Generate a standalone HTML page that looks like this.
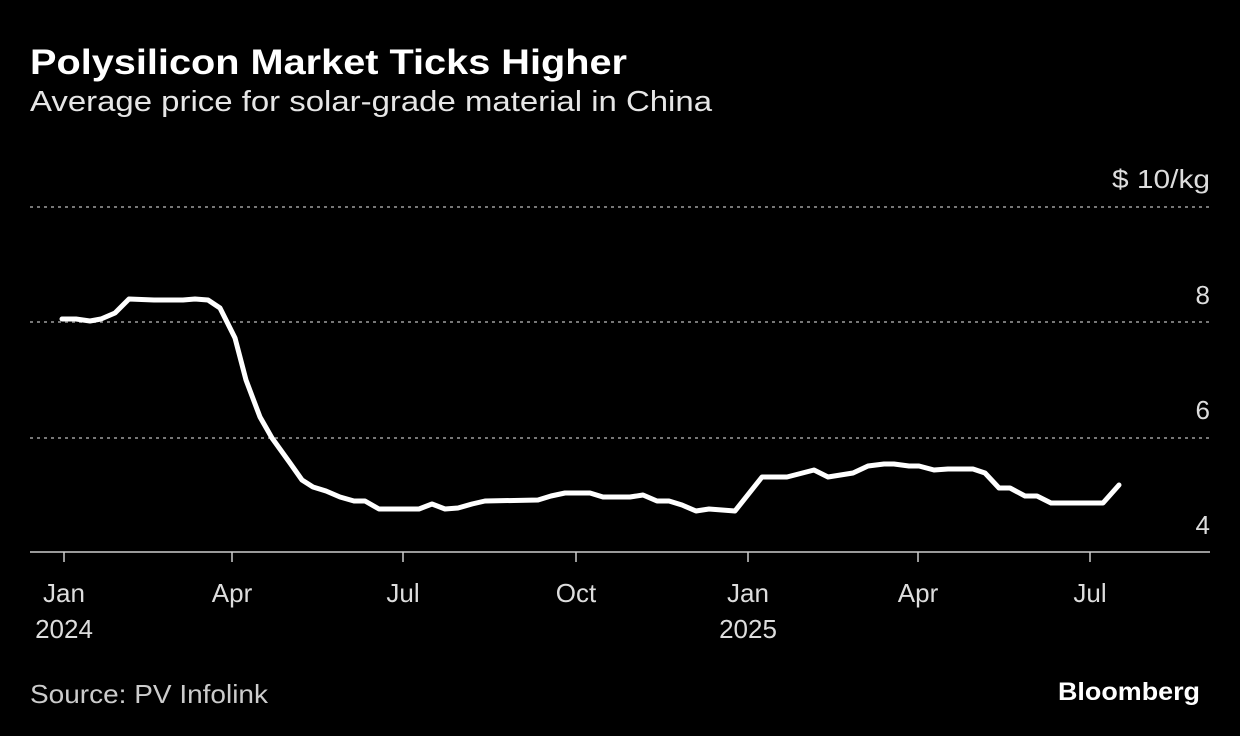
<!DOCTYPE html>
<html><head><meta charset="utf-8"><style>
html,body{margin:0;padding:0;background:#000;}
svg{display:block;}
text{font-family:"Liberation Sans",sans-serif;fill:#fff;}
</style></head><body>
<svg width="1240" height="736" viewBox="0 0 1240 736" xmlns="http://www.w3.org/2000/svg">
<rect width="1240" height="736" fill="#000"/>
<text x="30" y="74" font-size="35" font-weight="bold" textLength="597" lengthAdjust="spacingAndGlyphs">Polysilicon Market Ticks Higher</text>
<text x="30" y="111" font-size="29" textLength="682" lengthAdjust="spacingAndGlyphs" style="fill:#e6e6e6">Average price for solar-grade material in China</text>
<g stroke="#777" stroke-width="2" stroke-dasharray="3,4">
<line x1="30" y1="207" x2="1210" y2="207"/>
<line x1="30" y1="322" x2="1210" y2="322"/>
<line x1="30" y1="438" x2="1210" y2="438"/>
</g>
<line x1="30" y1="552" x2="1210" y2="552" stroke="#ccc" stroke-width="1.5"/>
<g stroke="#ccc" stroke-width="1.5">
<line x1="64" y1="552" x2="64" y2="562"/><line x1="232" y1="552" x2="232" y2="562"/>
<line x1="403" y1="552" x2="403" y2="562"/><line x1="576" y1="552" x2="576" y2="562"/>
<line x1="748" y1="552" x2="748" y2="562"/><line x1="918" y1="552" x2="918" y2="562"/>
<line x1="1090" y1="552" x2="1090" y2="562"/>
</g>
<g font-size="26" text-anchor="end">
<text x="1210" y="188" style="fill:#ddd" textLength="98" lengthAdjust="spacingAndGlyphs">$ 10/kg</text>
<text x="1210" y="304" style="fill:#ddd">8</text>
<text x="1210" y="419" style="fill:#ddd">6</text>
<text x="1210" y="534" style="fill:#ddd">4</text>
</g>
<g font-size="26" text-anchor="middle">
<text x="64" y="602" style="fill:#ddd">Jan</text>
<text x="64" y="638" style="fill:#ddd">2024</text>
<text x="232" y="602" style="fill:#ddd">Apr</text>
<text x="403" y="602" style="fill:#ddd">Jul</text>
<text x="576" y="602" style="fill:#ddd">Oct</text>
<text x="748" y="602" style="fill:#ddd">Jan</text>
<text x="748" y="638" style="fill:#ddd">2025</text>
<text x="918" y="602" style="fill:#ddd">Apr</text>
<text x="1090" y="602" style="fill:#ddd">Jul</text>
</g>
<polyline fill="none" stroke="#fff" stroke-width="5" stroke-linejoin="round" stroke-linecap="round" points="62,319 76,319 90,321 101,319 115,313 129,299 154,300 183,300 195,299 208,300 220,308 235,338 246,380 260,417 272,438 290,463 302,480 313,487 326,491 340,497 354,501 365,501 379,509 419,509 432,504 445,509 458,508 472,504 485,501 538,500 551,496 565,493 590,493 603,497 630,497 643,495 657,501 669,501 682,505 696,511 709,509 735,511 762,477 787,477 814,470 828,477 853,473 868,466 884,464 894,464 909,466 919,466 934,470 948,469 973,469 985,473 999,488 1010,488 1025,496 1037,496 1051,503 1073,503 1103,503 1119,485"/>
<text x="30" y="703" font-size="26" style="fill:#ccc" textLength="238" lengthAdjust="spacingAndGlyphs">Source: PV Infolink</text>
<text x="1200" y="700" font-size="25" font-weight="bold" text-anchor="end" textLength="142" lengthAdjust="spacingAndGlyphs">Bloomberg</text>
</svg>
</body></html>
